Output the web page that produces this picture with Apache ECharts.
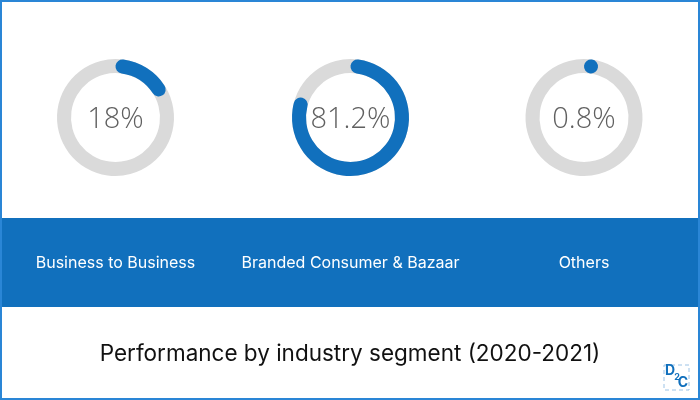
<!DOCTYPE html>
<html>
<head>
<meta charset="utf-8">
<script src="https://cdn.jsdelivr.net/npm/echarts@6/dist/echarts.min.js"></script>
<style>html,body{margin:0;padding:0;background:#fff}#c{width:700px;height:400px}</style>
</head>
<body>
<div id="c"></div>
<script>
const categories = ['Business to Business', 'Branded Consumer & Bazaar', 'Others'];
const values = [18, 81.2, 0.8];
const title = 'Performance by industry segment (2020-2021)';

const centersX = [115.5, 350.5, 584];
const centerY = 117.5;
const R = 58.5, W = 14;
const BLUE = '#1170bd';
// round-cap compensation so the rounded arc stays within its angular span
const capDeg = (W / 2) / (R - W / 2) * 180 / Math.PI;
const minV = 2 * capDeg / 3.6;

const chart = echarts.init(document.getElementById('c'), null, {renderer: 'canvas'});

const series = values.map((v, i) => ({
  type: 'gauge',
  center: [centersX[i], centerY],
  radius: R,
  startAngle: 90 - capDeg,
  endAngle: 90 - capDeg - 360,
  min: minV,
  max: 100 + minV,
  clockwise: true,
  pointer: {show: false},
  axisTick: {show: false},
  splitLine: {show: false},
  axisLabel: {show: false},
  title: {show: false},
  anchor: {show: false},
  axisLine: {roundCap: false, lineStyle: {width: W, color: [[1, '#dadada']]}},
  progress: {show: true, roundCap: true, width: W, itemStyle: {color: BLUE}},
  detail: {
    offsetCenter: [0, 2],
    valueAnimation: false,
    formatter: () => v + '%',
    fontSize: 29,
    fontWeight: 300,
    fontFamily: 'Open Sans',
    color: '#606060'
  },
  data: [{value: v}],
  animation: false
}));

const graphics = [
  {type: 'rect', z: -10, shape: {x: 0, y: 218, width: 700, height: 89}, style: {fill: BLUE}},
  {type: 'rect', z: 10, shape: {x: 1, y: 1, width: 698, height: 398}, style: {fill: null, stroke: '#2a86d6', lineWidth: 2}}
];
categories.forEach((c, i) => {
  graphics.push({
    type: 'text', z: 5,
    style: {x: centersX[i], y: 263, text: c, fill: '#ffffff', font: '16px Inter', textAlign: 'center', textVerticalAlign: 'middle'}
  });
});
graphics.push({
  type: 'text', z: 5,
  style: {x: 350, y: 354, text: title, fill: '#111111', font: '22.5px Inter', textAlign: 'center', textVerticalAlign: 'middle'}
});
// small logo
graphics.push({
  type: 'rect', z: 5,
  shape: {x: 664, y: 365, width: 25, height: 25},
  style: {fill: null, stroke: '#9cc3e6', lineWidth: 1, lineDash: [4, 3]}
});
graphics.push({
  type: 'text', z: 6,
  style: {x: 670, y: 371, text: 'D', font: 'bold 14px Inter', fill: BLUE, textAlign: 'center', textVerticalAlign: 'middle'}
});
graphics.push({
  type: 'text', z: 6,
  style: {x: 677, y: 377, text: '2', font: 'bold 9px Inter', fill: BLUE, textAlign: 'center', textVerticalAlign: 'middle'}
});
graphics.push({
  type: 'text', z: 6,
  style: {x: 683, y: 383, text: 'C', font: 'bold 14px Inter', fill: BLUE, textAlign: 'center', textVerticalAlign: 'middle'}
});

chart.setOption({
  backgroundColor: '#ffffff',
  animation: false,
  series: series,
  graphic: graphics
});
</script>
</body>
</html>
